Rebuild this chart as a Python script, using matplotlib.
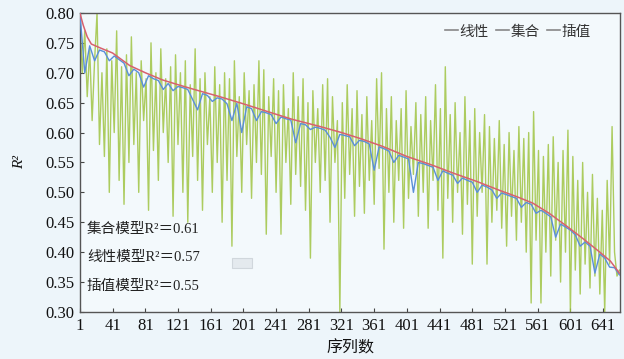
import matplotlib
matplotlib.use("Agg")
import matplotlib.pyplot as plt
from matplotlib.lines import Line2D
from matplotlib.patches import Rectangle

# ---------------- data ----------------
ensemble_x = [1, 5, 10, 15, 25, 41, 62, 81, 102, 121, 141, 172, 201, 233, 261, 295,
              321, 344, 371, 401, 431, 458, 487, 515, 535, 555, 575, 597, 617, 637, 650, 661]
ensemble_y = [0.800, 0.780, 0.760, 0.748, 0.742, 0.733, 0.712, 0.700, 0.688, 0.680, 0.672,
              0.660, 0.648, 0.634, 0.622, 0.610, 0.600, 0.590, 0.577, 0.560, 0.546, 0.532,
              0.518, 0.503, 0.493, 0.482, 0.465, 0.443, 0.422, 0.400, 0.385, 0.365]

linear_x = list(range(1, 662, 6))
linear_y = [0.80, 0.70, 0.745, 0.72, 0.738, 0.735, 0.72, 0.728, 0.722, 0.716,
            0.695, 0.706, 0.70, 0.676, 0.695, 0.69, 0.687, 0.672, 0.682, 0.67,
            0.677, 0.675, 0.672, 0.655, 0.638, 0.665, 0.662, 0.652, 0.658, 0.656,
            0.648, 0.62, 0.649, 0.60, 0.643, 0.64, 0.62, 0.635, 0.633, 0.63,
            0.615, 0.626, 0.623, 0.621, 0.583, 0.615, 0.613, 0.605, 0.609, 0.607,
            0.604, 0.592, 0.575, 0.597, 0.595, 0.593, 0.578, 0.587, 0.585, 0.581,
            0.537, 0.576, 0.573, 0.569, 0.55, 0.562, 0.559, 0.556, 0.50, 0.55,
            0.548, 0.545, 0.542, 0.52, 0.536, 0.532, 0.529, 0.515, 0.524, 0.52,
            0.517, 0.50, 0.512, 0.509, 0.504, 0.49, 0.499, 0.496, 0.493, 0.49,
            0.475, 0.483, 0.48, 0.465, 0.47, 0.465, 0.459, 0.425, 0.447, 0.442,
            0.437, 0.429, 0.41, 0.417, 0.41, 0.365, 0.397, 0.39, 0.375, 0.374,
            0.362]

interp_x = list(range(1, 662, 3))
interp_y = [0.79, 0.70, 0.77, 0.66, 0.74, 0.62, 0.72, 0.80, 0.58, 0.70,
            0.56, 0.74, 0.50, 0.72, 0.60, 0.77, 0.52, 0.71, 0.48, 0.73,
            0.55, 0.76, 0.58, 0.70, 0.50, 0.72, 0.62, 0.69, 0.47, 0.75,
            0.57, 0.70, 0.52, 0.74, 0.60, 0.69, 0.55, 0.71, 0.46, 0.73,
            0.58, 0.70, 0.50, 0.72, 0.45, 0.68, 0.56, 0.74, 0.52, 0.69,
            0.47, 0.70, 0.58, 0.66, 0.50, 0.71, 0.55, 0.68, 0.45, 0.70,
            0.52, 0.69, 0.41, 0.72, 0.56, 0.66, 0.50, 0.70, 0.58, 0.67,
            0.49, 0.68, 0.55, 0.72, 0.53, 0.705, 0.43, 0.66, 0.56, 0.69,
            0.50, 0.67, 0.43, 0.68, 0.55, 0.64, 0.48, 0.70, 0.53, 0.66,
            0.51, 0.69, 0.47, 0.65, 0.39, 0.67, 0.55, 0.64, 0.50, 0.68,
            0.52, 0.69, 0.45, 0.66, 0.55, 0.62, 0.30, 0.65, 0.49, 0.68,
            0.53, 0.64, 0.46, 0.67, 0.51, 0.63, 0.465, 0.66, 0.52, 0.62,
            0.48, 0.69, 0.54, 0.70, 0.405, 0.64, 0.50, 0.66, 0.45, 0.62,
            0.52, 0.64, 0.44, 0.67, 0.49, 0.61, 0.53, 0.65, 0.46, 0.63,
            0.50, 0.66, 0.44, 0.62, 0.52, 0.68, 0.47, 0.64, 0.39, 0.71,
            0.49, 0.63, 0.45, 0.65, 0.50, 0.60, 0.43, 0.66, 0.48, 0.62,
            0.38, 0.64, 0.46, 0.60, 0.50, 0.63, 0.38, 0.61, 0.45, 0.59,
            0.47, 0.62, 0.44, 0.58, 0.41, 0.60, 0.46, 0.57, 0.42, 0.61,
            0.45, 0.59, 0.40, 0.60, 0.315, 0.635, 0.42, 0.57, 0.315, 0.56,
            0.40, 0.58, 0.36, 0.593, 0.42, 0.55, 0.35, 0.57, 0.40, 0.604,
            0.30, 0.56, 0.37, 0.52, 0.33, 0.55, 0.38, 0.50, 0.34, 0.53,
            0.36, 0.49, 0.33, 0.47, 0.30, 0.52, 0.38, 0.61, 0.40, 0.36,
            0.37]

x_ticks = [1, 41, 81, 121, 161, 201, 241, 281, 321, 361, 401, 441, 481, 521, 561, 601, 641]
y_ticks = [0.30, 0.35, 0.40, 0.45, 0.50, 0.55, 0.60, 0.65, 0.70, 0.75, 0.80]
legend_labels = ["线性", "集合", "插值"]
r2_texts = ["集合模型R²＝0.61", "线性模型R²＝0.57", "插值模型R²＝0.55"]

# ---------------- style ----------------
SERIF = ["Liberation Serif", "Noto Sans CJK SC", "DejaVu Sans"]
CJK = ["Noto Sans CJK SC", "DejaVu Sans"]
plt.rcParams["font.family"] = SERIF

fig = plt.figure(figsize=(6.24, 3.59), dpi=100)
fig.patch.set_facecolor("#edf5fa")
ax = fig.add_axes([0.128, 0.131, 0.866, 0.833])
ax.set_facecolor("#f3f9fc")

c_green = "#a0c444"
c_blue = "#5a8fd8"
c_red = "#d8606e"

ax.plot(interp_x, interp_y, color=c_green, lw=1.0, alpha=0.85, zorder=2)
ax.plot(linear_x, linear_y, color=c_blue, lw=1.0, zorder=3)
ax.plot(ensemble_x, ensemble_y, color=c_red, lw=1.1, zorder=4)

ax.set_xlim(1, 662)
ax.set_ylim(0.30, 0.80)
ax.set_xticks(x_ticks)
ax.set_yticks(y_ticks)
ax.set_xticklabels([str(t) for t in x_ticks])
ax.set_yticklabels([f"{t:.2f}" for t in y_ticks])
ax.tick_params(direction="in", length=3, width=0.8, colors="#444444",
               labelsize=12, labelcolor="#111111", pad=4)
for s in ax.spines.values():
    s.set_color("#555555")
    s.set_linewidth(1.0)

ax.set_xlabel("序列数", family=CJK, fontsize=11.5, color="#111111", labelpad=4)
ax.set_ylabel("R²", fontsize=11, style="italic", color="#111111", labelpad=14)

handles = [Line2D([0], [0], color="#888888", lw=1.2) for _ in legend_labels]
leg = ax.legend(handles, legend_labels, loc="upper right", ncol=3, frameon=False,
                handlelength=0.9, handletextpad=0.1, columnspacing=0.5,
                prop={"family": CJK, "size": 10.5}, bbox_to_anchor=(0.97, 1.005))
for t in leg.get_texts():
    t.set_color("#333333")

ys = [0.278, 0.183, 0.086]
for txt, yy in zip(r2_texts, ys):
    ax.text(0.013, yy, txt, transform=ax.transAxes, fontsize=10.5,
            family=SERIF, color="#222222", va="center", ha="left")

ax.add_patch(Rectangle((0.281, 0.147), 0.037, 0.035, transform=ax.transAxes,
                       facecolor="#e4eaee", edgecolor="#d0d7dc", lw=0.8, zorder=1))

fig.savefig("out.png", dpi=100, facecolor=fig.get_facecolor())
